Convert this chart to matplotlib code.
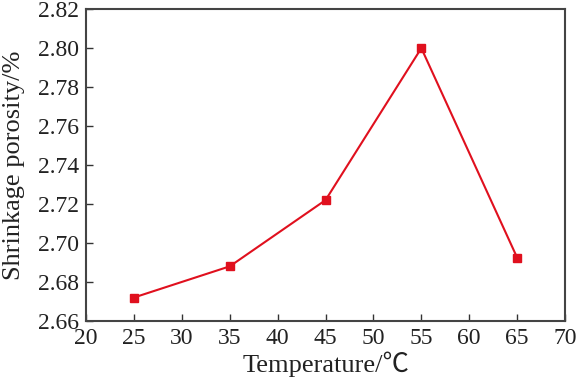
import matplotlib
matplotlib.use('Agg')
import matplotlib.pyplot as plt

temperature = [25, 35, 45, 55, 65]
porosity = [2.672, 2.688, 2.722, 2.800, 2.6925]
x_ticks = [20, 25, 30, 35, 40, 45, 50, 55, 60, 65, 70]
y_ticks = [2.66, 2.68, 2.70, 2.72, 2.74, 2.76, 2.78, 2.80, 2.82]

plt.rcParams['font.family'] = ['Liberation Serif', 'Noto Sans CJK SC']

fig = plt.figure(figsize=(5.78, 3.82), dpi=100)
ax = fig.add_axes([0.149, 0.16, 0.8285, 0.816])
ax.plot(temperature, porosity, color='#e0101e', lw=1.5, marker='s', ms=6)

ax.set_xlim(20, 70)
ax.set_ylim(2.66, 2.82)
ax.set_xticks(x_ticks)
ax.set_yticks(y_ticks)
ax.set_yticklabels(['%.2f' % v for v in y_ticks])
ax.tick_params(direction='in', length=5, width=1, colors='#333333',
               labelsize=17, labelcolor='#222222', pad=5)
for s in ax.spines.values():
    s.set_color('#444444')
    s.set_linewidth(1.5)

ax.set_xlabel('Temperature/℃', fontsize=19, color='#222222', labelpad=2)
ax.set_ylabel('Shrinkage porosity/%', fontsize=19, color='#222222')
ax.yaxis.set_label_coords(-0.127, 0.5)

fig.savefig('out.png', dpi=100)
